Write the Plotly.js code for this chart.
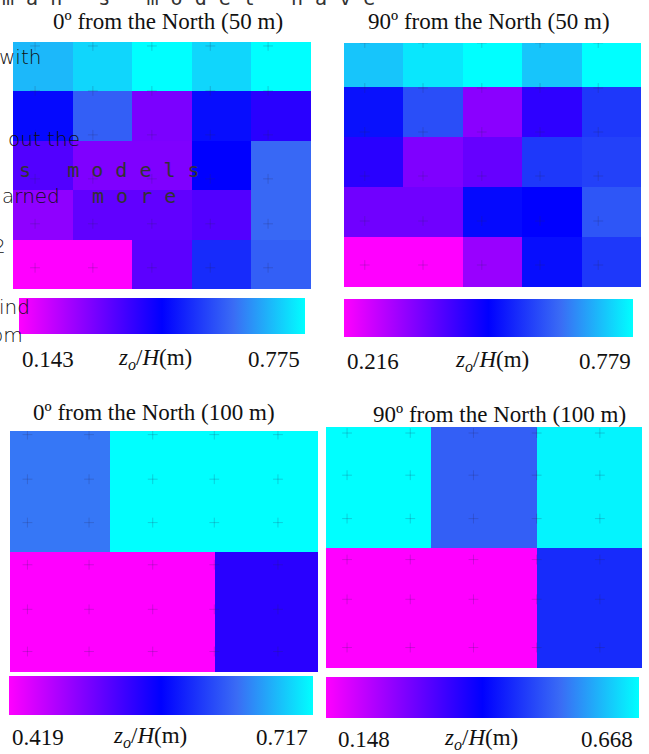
<!DOCTYPE html>
<html><head><meta charset="utf-8">
<script src="https://cdn.plot.ly/plotly-3.0.1.min.js"></script>
<style>html,body{margin:0;padding:0;background:#fff}#chart{width:649px;height:754px}</style>
</head><body><div id="chart"></div>
<script>
// ---------- data ----------
const panelTitles = ['0º from the North (50 m)','90º from the North (50 m)','0º from the North (100 m)','90º from the North (100 m)'];
const zMin = [0.143, 0.216, 0.419, 0.148];
const zMax = [0.775, 0.779, 0.717, 0.668];
const cbLabel = '<i>z<sub>o</sub></i>/<i>H</i>(m)';

// cell edges
const xEdges50 = [0,1,2,3,4,5];
const yEdges50N0 = [0,1,2,3,4,5];
const yEdges50N90 = [0,1,2,3,4,4.88];
const xEdges100N0 = [0,0.97,2.0,3];
const xEdges100N90 = [0,1,2,3];
const yEdges100 = [0,1,2];

// z/H values, rows listed bottom -> top
const z50N0 = [
  [0.143,0.143,0.345,0.522,0.598],
  [0.282,0.339,0.339,0.358,0.611],
  [0.358,0.301,0.301,0.459,0.611],
  [0.472,0.598,0.307,0.478,0.408],
  [0.699,0.731,0.775,0.731,0.775]];
const z50N90 = [
  [0.216,0.216,0.329,0.514,0.571],
  [0.374,0.374,0.509,0.498,0.610],
  [0.452,0.357,0.385,0.571,0.582],
  [0.520,0.599,0.345,0.447,0.571],
  [0.723,0.756,0.779,0.723,0.779]];
const z100N0 = [[0.419,0.419,0.544],[0.648,0.717,0.717]];
const z100N90 = [[0.148,0.148,0.460],[0.668,0.522,0.658]];

// measurement points (+ marks)
const ptX50N0 = [0.37,1.34,2.33,3.31,4.28];
const ptY50N0 = [0.43,1.32,2.23,3.12,4.01,4.92];
const ptX50N90 = [0.35,1.33,2.32,3.30,4.28];
const ptY50N90 = [0.44,1.32,2.22,3.10,3.98,4.88];
const ptX100N0 = [0.17,0.77,1.39,1.99,2.61];
const ptY100N0 = [0.17,0.52,0.89,1.24,1.60,1.97];
const ptX100N90 = [0.20,0.80,1.40,2.00,2.60];
const ptY100N90 = [0.17,0.57,0.90,1.24,1.60,1.95];

// ---------- layout helpers ----------
const W = 649, H = 754;
const px = v => v / W;
const py = v => 1 - v / H;
const colorscale = [[0,'#ff00ff'],[0.5,'#0000ff'],[0.75,'#3a6cf5'],[1,'#00ffff']];

const panels = [
  {xe:xEdges50, ye:yEdges50N0, z:z50N0, px:ptX50N0, py:ptY50N0,
   box:[13,311,42,289], cb:[19,305,298,36], title:[168,22], lab:[359,20,155,302]},
  {xe:xEdges50, ye:yEdges50N90, z:z50N90, px:ptX50N90, py:ptY50N90,
   box:[344,641,43,287], cb:[344,633,299,38], title:[489,22], lab:[361,345,492,633]},
  {xe:xEdges100N0, ye:yEdges100, z:z100N0, px:ptX100N0, py:ptY100N0,
   box:[10,318,431,672], cb:[9,313,676,39], title:[154,412], lab:[737,10,150,310]},
  {xe:xEdges100N90, ye:yEdges100, z:z100N90, px:ptX100N90, py:ptY100N90,
   box:[326,642,427,668], cb:[326,639,677,41], title:[499,414], lab:[739,336,481,635]}
];

const traces = [];
const layout = {
  width: W, height: H,
  margin: {l:0, r:0, t:0, b:0},
  paper_bgcolor: '#ffffff', plot_bgcolor: '#ffffff',
  showlegend: false,
  annotations: []
};
const serif = 'Liberation Serif, Times New Roman, serif';

panels.forEach((p, i) => {
  const n = i + 1;
  const xa = n === 1 ? 'x' : 'x' + n;
  const ya = n === 1 ? 'y' : 'y' + n;
  const cbCenter = (p.cb[0] + p.cb[1]) / 2;
  traces.push({
    type: 'heatmap', x: p.xe, y: p.ye, z: p.z,
    xaxis: xa, yaxis: ya,
    zmin: zMin[i], zmax: zMax[i], colorscale: colorscale,
    zsmooth: false, hoverinfo: 'skip',
    colorbar: {
      orientation: 'h', x: px(cbCenter), xanchor: 'center',
      y: py(p.cb[2]), yanchor: 'top',
      len: (p.cb[1] - p.cb[0]) / W, lenmode: 'fraction',
      thickness: p.cb[3], thicknessmode: 'pixels',
      xpad: 0, ypad: 0, outlinewidth: 0, borderwidth: 0,
      showticklabels: false, ticks: ''
    }
  });
  const gx = [], gy = [];
  p.py.forEach(yv => p.px.forEach(xv => { gx.push(xv); gy.push(yv); }));
  traces.push({
    type: 'scatter', mode: 'markers', x: gx, y: gy, xaxis: xa, yaxis: ya,
    hoverinfo: 'skip',
    marker: {symbol: 'cross-thin', size: 7, color: 'rgba(40,40,90,0.22)',
             line: {width: 1, color: 'rgba(40,40,90,0.22)'}}
  });
  const axCommon = {showgrid:false, zeroline:false, showticklabels:false, ticks:'',
                    showline:false, fixedrange:true};
  layout['xaxis' + (n === 1 ? '' : n)] = Object.assign({}, axCommon, {
    domain: [px(p.box[0]), px(p.box[1])], range: [p.xe[0], p.xe[p.xe.length-1]],
    anchor: ya
  });
  layout['yaxis' + (n === 1 ? '' : n)] = Object.assign({}, axCommon, {
    domain: [py(p.box[3]), py(p.box[2])], range: [p.ye[0], p.ye[p.ye.length-1]],
    anchor: xa
  });
  // title
  layout.annotations.push({
    xref:'paper', yref:'paper', x: px(p.title[0]), y: py(p.title[1]),
    xanchor:'center', yanchor:'middle', showarrow:false,
    text: panelTitles[i], font:{family: serif, size: 23, color:'#111'}
  });
  // colorbar labels
  layout.annotations.push({
    xref:'paper', yref:'paper', x: px(p.lab[1]), y: py(p.lab[0]),
    xanchor:'left', yanchor:'middle', showarrow:false,
    text: zMin[i].toFixed(3), font:{family: serif, size: 23, color:'#111'}
  });
  layout.annotations.push({
    xref:'paper', yref:'paper', x: px(p.lab[2]), y: py(p.lab[0]),
    xanchor:'center', yanchor:'middle', showarrow:false,
    text: cbLabel, font:{family: serif, size: 23, color:'#111'}
  });
  layout.annotations.push({
    xref:'paper', yref:'paper', x: px(p.lab[3]), y: py(p.lab[0]),
    xanchor:'right', yanchor:'middle', showarrow:false,
    text: zMax[i].toFixed(3), font:{family: serif, size: 23, color:'#111'}
  });
});

// ghost text from the underlying page
const ghostText = ["m a n ' s   m o d e l   h a v e", 'with', 'out the', 's   m o d e l s', 'arned', 'm o r e', '2', 'ind', 'om'];
const ghostMono = [true, false, false, true, false, true, false, false, false];
const ghostPos = [[0,-2,'left'],[43,57,'right'],[82,139,'right'],[17,170,'left'],[62,196,'right'],[90,196,'left'],[8,246,'right'],[32,307,'right'],[25,335,'right']];
ghostText.forEach((t, k) => {
  layout.annotations.push({
    xref:'paper', yref:'paper', x: px(ghostPos[k][0]), y: py(ghostPos[k][1]),
    xanchor: ghostPos[k][2], yanchor:'middle', showarrow:false,
    text: t.replace(/ /g, '\u00a0'),
    font:{family: ghostMono[k] ? 'DejaVu Sans Mono, monospace' : 'DejaVu Sans, sans-serif',
          size: 20, color: ghostMono[k] ? '#333' : '#111', weight: 300}
  });
});

Plotly.newPlot('chart', traces, layout, {displayModeBar:false, staticPlot:true});
</script></body></html>
